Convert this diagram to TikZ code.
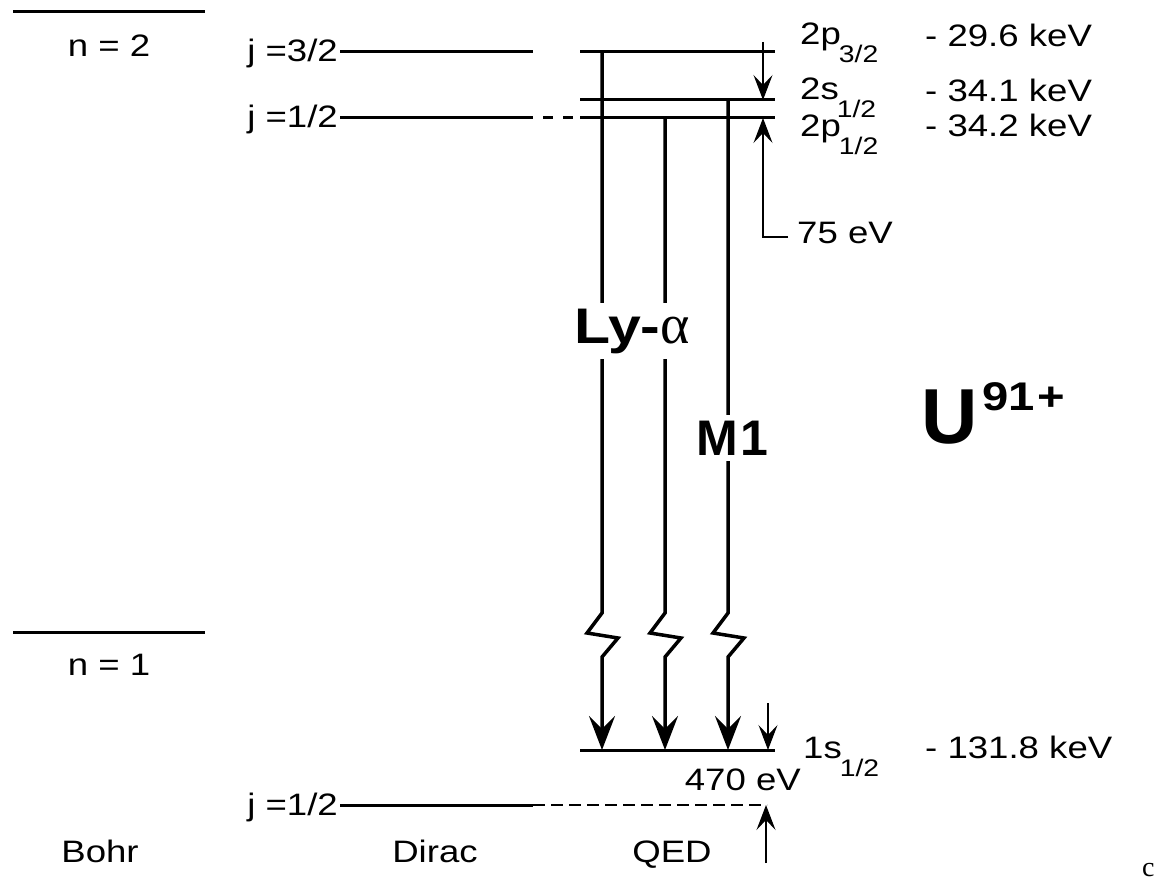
\documentclass[tikz,border=0pt]{standalone}
\usepackage{fontspec}
\setmainfont{Liberation Sans}
\newfontfamily\widesans[FakeStretch=1.18]{Liberation Sans}
\newfontfamily\greekserif{Liberation Serif}
\usetikzlibrary{arrows.meta}

\newcommand{\lvlname}[2]{#1\kern-2pt\raisebox{-18pt}{\fontsize{24}{24}\selectfont #2}}

\begin{document}
\begin{tikzpicture}[x=1pt, y=-1pt,
    every node/.style={inner sep=0pt, font=\widesans\fontsize{31}{31}\selectfont},
    level/.style={line width=3pt},
    trans/.style={line width=3.5pt, -{Stealth[length=34pt, width=26pt, inset=13pt]}},
    shiftarrow/.style={line width=1.2pt, -{Stealth[length=25pt, width=19pt, inset=10pt]}},
    bigtext/.style={font=\bfseries\fontsize{50}{50}\selectfont, fill=white, inner ysep=6pt}]
  \useasboundingbox (0,0) rectangle (1162,880);

  % Bohr levels
  \draw[level] (13,12) coordinate (bohrTwo) -- (205,12);
  \draw[level] (13,632) coordinate (bohrOne) -- (205,632);
  \node[anchor=base] (nTwo) at (109,57) {n = 2};
  \node[anchor=base] (nOne) at (109,675) {n = 1};

  % Dirac levels
  \node[anchor=base east] (jThree) at (338,62) {j =3/2};
  \node[anchor=base east] (jOne) at (338,128) {j =1/2};
  \node[anchor=base east] (jGround) at (338,815) {j =1/2};
  \draw[level] (340,52) -- (533,52);
  \draw[level] (340,118) -- (533,118) coordinate (dOneEnd);
  \draw[level, dash pattern=on 10pt off 10pt, dash phase=10pt] (dOneEnd) -- (580,118);
  \draw[level] (340,805) -- (533,805) coordinate (dGroundEnd);
  \draw[line width=2.5pt, dash pattern=on 12pt off 6pt] (dGroundEnd) -- (767,805) coordinate (dGround);

  % QED levels
  \foreach \y/\nm in {52/pThree, 100/sOne, 118/pOne, 750/sGround}
    \draw[level] (580,\y) coordinate (\nm-l) -- (775,\y) coordinate (\nm-r);

  % transitions with broken axis
  \foreach \x/\ytop in {602/52, 665/118, 728/100}{
    \coordinate (up\x) at (\x,\ytop);
    \coordinate (dn\x) at (\x,750);
    \draw[trans] (up\x) -- (\x,613) -- ++(-15,20) -- ++(31,5) -- ++(-16,19) -- (dn\x);
  }
  \node[bigtext, anchor=base west, font=\widesans\bfseries\fontsize{50}{50}\selectfont] (lya) at (574,343)
    {Ly-{\greekserif\mdseries\fontsize{56}{56}\selectfont α}};
  \node[bigtext, anchor=base west] (mOne) at (696,455) {M\kern3pt1};

  % level shifts
  \coordinate (aTop) at (763,42);
  \draw[shiftarrow] (aTop) -- (aTop |- sOne-r);
  \coordinate (lambCorner) at (763,237);
  \draw[shiftarrow] (788,237) -- (lambCorner) -- (lambCorner |- pOne-r);
  \node[anchor=base west] (lamb) at (797,243) {75 eV};
  \coordinate (gTop) at (768,703);
  \draw[shiftarrow] (gTop) -- (gTop |- sGround-r);
  \coordinate (gBot) at (766,863);
  \draw[shiftarrow] (gBot) -- (gBot |- dGround);
  \node[anchor=base east] (qedShift) at (801,790) {470 eV};

  % state names and binding energies
  \node[anchor=base west] (lblPThree) at (800,45) {\lvlname{2p}{3/2}};
  \node[anchor=base west] (lblSOne) at (800,100) {\lvlname{2s}{1/2}};
  \node[anchor=base west] (lblPOne) at (800,137) {\lvlname{2p}{1/2}};
  \node[anchor=base west] (lblGround) at (803,758) {\lvlname{1s}{1/2}};
  \foreach \y/\e/\nm in {47/29.6/eA, 102/34.1/eB, 137/34.2/eC, 758/131.8/eD}
    \node[anchor=base west] (\nm) at (925,\y) {- \e\ keV};

  % ion and columns
  \node[anchor=base west, font=\bfseries\fontsize{78}{78}\selectfont] (ion) at (921,443)
    {U\kern5pt\raisebox{33pt}{\widesans\bfseries\fontsize{40}{40}\selectfont 91\kern3pt+}};
  \node[anchor=base] (bohr) at (100,862) {Bohr};
  \node[anchor=base] (dirac) at (435,862) {Dirac};
  \node[anchor=base] (qed) at (672,862) {QED};
  \node[anchor=base west, font=\greekserif\fontsize{28}{28}\selectfont] (corner) at (1142,876) {c};
\end{tikzpicture}
\end{document}
